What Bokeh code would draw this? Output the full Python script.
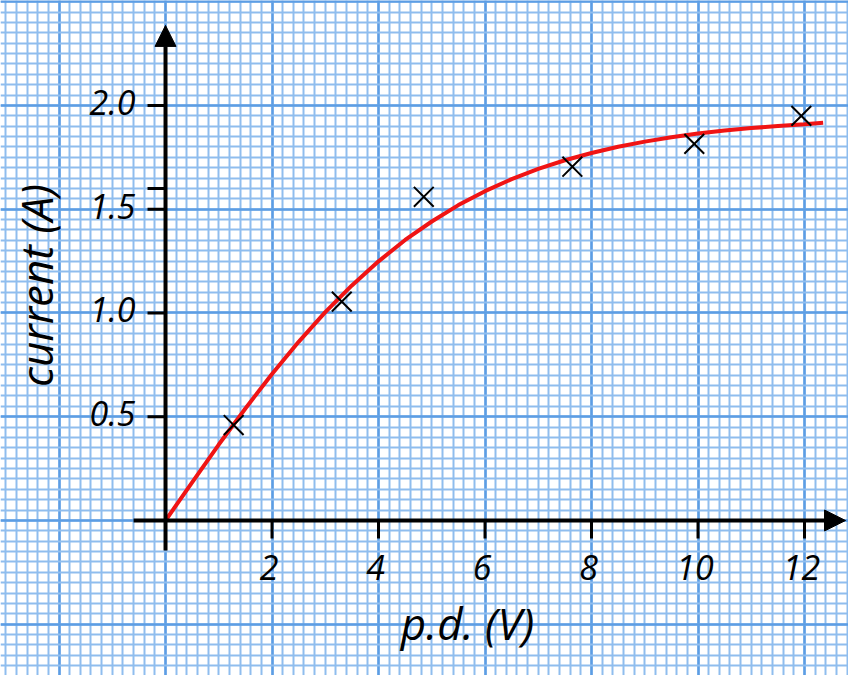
import math
from bokeh.plotting import figure
from bokeh.models import SingleIntervalTicker, Arrow, NormalHead, Label
from bokeh.core.properties import value
from bokeh.embed import file_html
from bokeh.resources import INLINE

# ---- data ----
pd_points = [1.28, 3.31, 4.85, 7.64, 9.93, 11.94]
current_points = [0.46, 1.055, 1.56, 1.705, 1.815, 1.95]

curve_pd = [0.0, 0.5, 1.0, 1.5, 2.0, 2.5, 3.0, 3.5, 4.0, 4.5, 5.0, 5.5, 6.0,
            6.5, 7.0, 7.5, 8.0, 8.5, 9.0, 9.5, 10.0, 10.5, 11.0, 11.5, 12.0, 12.35]
curve_current = [0.0, 0.184, 0.366, 0.540, 0.706, 0.861, 1.004, 1.133, 1.249,
                 1.352, 1.441, 1.520, 1.587, 1.645, 1.695, 1.736, 1.771, 1.801,
                 1.826, 1.847, 1.865, 1.879, 1.891, 1.901, 1.910, 1.917]

x_ticks = [2, 4, 6, 8, 10, 12]
x_tick_labels = ["2", "4", "6", "8", "10", "12"]
y_ticks = [0.5, 1.0, 1.5, 2.0]
y_tick_labels = ["0.5", "1.0", "1.5", "2.0"]
y_extra_ticks = [1.6]

x_title = "p.d. (V)"
y_title = "current (A)"

# ---- layout ----
W, H = 848, 675
x_start, x_end = -3.099, 12.826
y_start, y_end = -0.747, 2.506
px_x = W / (x_end - x_start)
px_y = H / (y_end - y_start)

FONT = value("Open Sans")

p = figure(width=W, height=H, x_range=(x_start, x_end), y_range=(y_start, y_end),
           output_backend="svg", toolbar_location=None, min_border=0)
p.outline_line_color = None
p.background_fill_color = "white"
p.xaxis.visible = False
p.yaxis.visible = False

# graph-paper grid
p.xgrid.ticker = SingleIntervalTicker(interval=2, num_minor_ticks=10)
p.ygrid.ticker = SingleIntervalTicker(interval=0.5, num_minor_ticks=10)
for g in (p.xgrid, p.ygrid):
    g.grid_line_color = "#5c9de4"
    g.grid_line_width = 2.5
    g.grid_line_alpha = 1.0
    g.minor_grid_line_color = "#8fbdee"
    g.minor_grid_line_width = 2
    g.minor_grid_line_alpha = 1.0

# axes with arrow heads
p.add_layout(Arrow(x_start=-0.60, y_start=0, x_end=12.77, y_end=0, line_width=4,
                   line_color="black",
                   end=NormalHead(size=21, fill_color="black", line_color="black", line_width=1)))
p.add_layout(Arrow(x_start=0, y_start=-0.145, x_end=0, y_end=2.386, line_width=4,
                   line_color="black",
                   end=NormalHead(size=21, fill_color="black", line_color="black", line_width=1)))

# ticks
tick_len = 18
p.segment(x0=x_ticks, y0=[0] * len(x_ticks), x1=x_ticks,
          y1=[-tick_len / px_y] * len(x_ticks), line_color="black", line_width=3)
all_y_ticks = y_ticks + y_extra_ticks
p.segment(x0=[0] * len(all_y_ticks), y0=all_y_ticks, x1=[-tick_len / px_x] * len(all_y_ticks),
          y1=all_y_ticks, line_color="black", line_width=3)

# tick labels
p.text(x=x_ticks, y=[0] * len(x_ticks), text=x_tick_labels, text_font=FONT,
       text_font_style="italic", text_font_size="34px", text_align="center",
       text_baseline="middle", y_offset=47, x_offset=-3, text_color="black")
p.text(x=[0] * len(y_ticks), y=y_ticks, text=y_tick_labels, text_font=FONT,
       text_font_style="italic", text_font_size="34px", text_align="right",
       text_baseline="middle", x_offset=-30, y_offset=-3, text_color="black")

# curve and points
p.line(curve_pd, curve_current, line_color="#f01414", line_width=4)
p.scatter(pd_points, current_points, marker="x", size=28, line_color="black", line_width=2)

# axis titles
p.add_layout(Label(x=35, y=H - 285, x_units="screen", y_units="screen", text=y_title,
                   angle=math.pi / 2, text_align="center", text_baseline="middle",
                   text_font="Open Sans", text_font_style="italic", text_font_size="44px",
                   text_color="black"))
p.add_layout(Label(x=467, y=H - 622, x_units="screen", y_units="screen", text=x_title,
                   text_align="center", text_baseline="middle",
                   text_font="Open Sans", text_font_style="italic", text_font_size="44px",
                   text_color="black"))

open("out.html", "w").write(file_html(p, INLINE))
